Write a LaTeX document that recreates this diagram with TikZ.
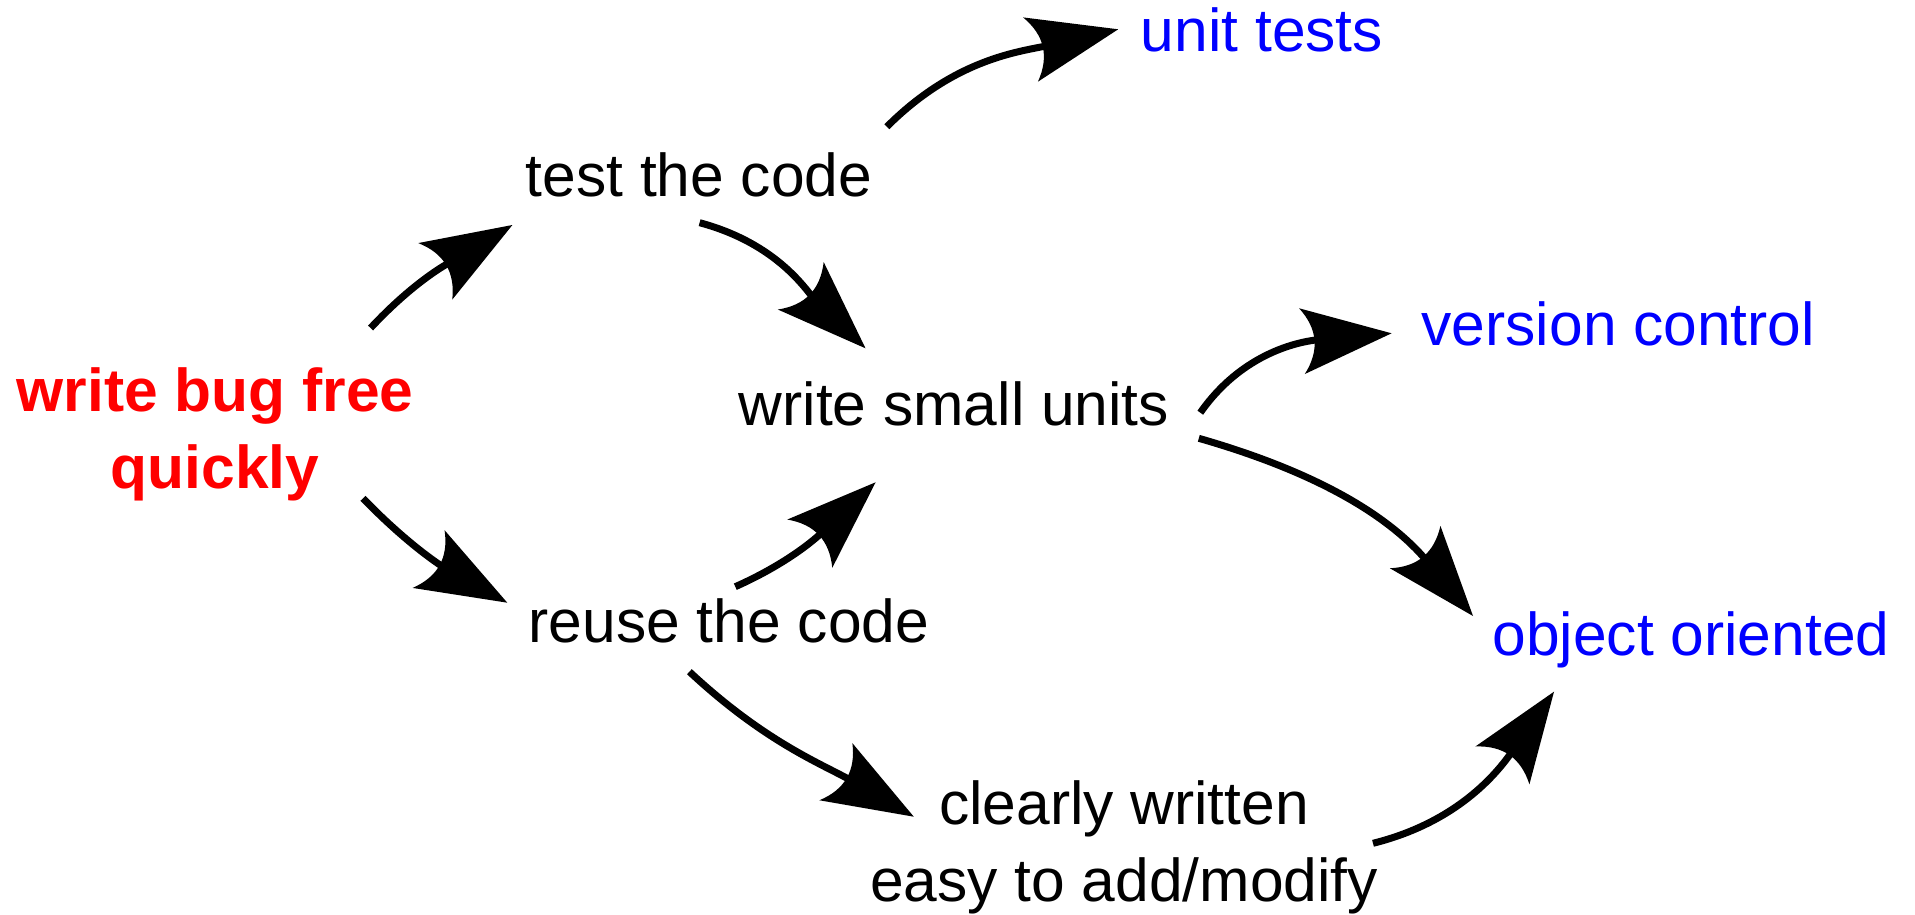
\documentclass[tikz,border=0pt]{standalone}
\usepackage{fontspec}
\setmainfont{Liberation Sans}
\usetikzlibrary{arrows.meta}

% Large filled arrow head with a curved, notched back
\pgfdeclarearrow{
  name = BigBarb,
  parameters = {\the\pgfarrowlength,\the\pgfarrowwidth},
  setup code = {
    \pgfarrowssettipend{0pt}
    \pgfarrowssetlineend{-0.8\pgfarrowlength}
    \pgfarrowssetbackend{-\pgfarrowlength}
    \pgfarrowssavethe\pgfarrowlength
    \pgfarrowssavethe\pgfarrowwidth
  },
  drawing code = {
    \pgfpathmoveto{\pgfpointorigin}
    \pgfpathlineto{\pgfpoint{-\pgfarrowlength}{.5\pgfarrowwidth}}
    \pgfpathquadraticcurveto{\pgfpoint{-.72\pgfarrowlength}{0pt}}{\pgfpoint{-\pgfarrowlength}{-.5\pgfarrowwidth}}
    \pgfpathclose
    \pgfusepathqfill
  },
  defaults = {length = 90pt, width = 66pt}
}

\definecolor{goalred}{RGB}{255,0,0}
\definecolor{toolblue}{RGB}{0,0,255}

\begin{document}
\begin{tikzpicture}[x=1pt,y=-1pt,
  every node/.style={inner sep=0pt,font=\fontsize{60.5}{77}\selectfont},
  stepbox/.style={anchor=base,text=black},
  goalbox/.style={anchor=north,align=center,text=goalred,font=\fontsize{60.5}{77}\selectfont\bfseries},
  toolbox/.style={anchor=base,text=toolblue},
  twoline/.style={anchor=north,align=center,text=black},
  link/.style={line width=7pt,-{BigBarb}}]

\useasboundingbox (0,0) rectangle (1915,915);

% statements
\node[goalbox] (bug)     at (215,367.3)   {write bug free\\quickly};
\node[stepbox] (test)    at (699,196.7)   {test the code};
\node[toolbox] (unit)    at (1262,51.7)   {unit tests};
\node[stepbox] (small)   at (954,425)     {write small units};
\node[toolbox] (version) at (1618.4,345.7){version control};
\node[stepbox] (reuse)   at (728.9,642.3) {reuse the code};
\node[toolbox] (oo)      at (1691,655.5)  {object oriented};
\node[twoline] (clear)   at (1124,780.6)  {clearly written\\easy to add/modify};

% connectors
\draw[link] ([shift={(155.6,-39.3)}]bug.north)  to[out=47,in=211]  ([shift={(-186.6,28.3)}]test.base);
\draw[link] ([shift={(148,131)}]bug.north)      to[out=-46,in=151] ([shift={(-221.6,-39.6)}]reuse.base);
\draw[link] ([shift={(0.6,26)}]test.base)       to[out=-15,in=136] ([shift={(-88.5,-76.7)}]small.base);
\draw[link] ([shift={(187.9,-70)}]test.base)    to[out=45,in=193]  ([shift={(-143.8,-22.4)}]unit.base);
\draw[link] ([shift={(246.3,-12.3)}]small.base) to[out=55,in=185]  ([shift={(-226.8,-12.4)}]version.base);
\draw[link] ([shift={(244.8,13.3)}]small.base)  to[out=-16,in=130] ([shift={(-218,-39.5)}]oo.base);
\draw[link] ([shift={(6.4,-55.6)}]reuse.base)   to[out=24,in=223]  ([shift={(-78.4,57.3)}]small.base);
\draw[link] ([shift={(-39.5,29.4)}]reuse.base)  to[out=-43,in=150] ([shift={(-210.2,36.1)}]clear.north);
\draw[link] ([shift={(249,62.7)}]clear.north)   to[out=14,in=235]  ([shift={(-137,36.2)}]oo.base);

\end{tikzpicture}
\end{document}
